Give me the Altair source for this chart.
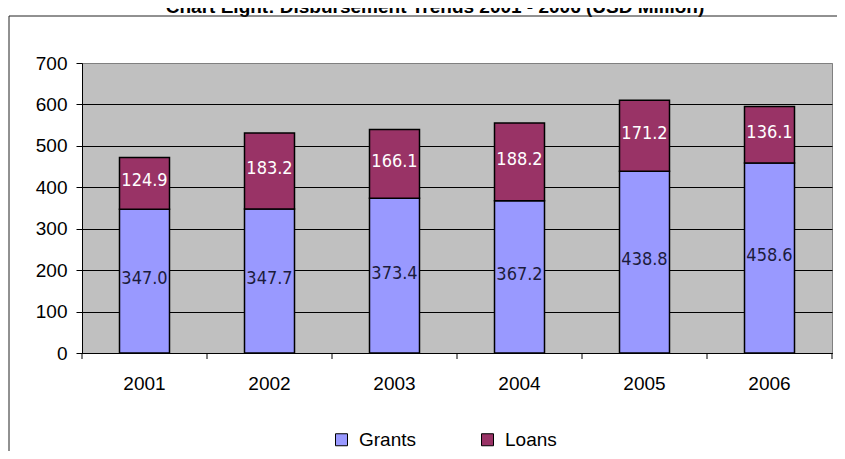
import altair as alt
import pandas as pd

years = ["2001", "2002", "2003", "2004", "2005", "2006"]
grants = [347.0, 347.7, 373.4, 367.2, 438.8, 458.6]
loans = [124.9, 183.2, 166.1, 188.2, 171.2, 136.1]
series_names = ["Grants", "Loans"]
series_colors = ["#9999FF", "#993366"]
label_colors = ["#1C1C3C", "#FFFFFF"]
y_ticks = [0, 100, 200, 300, 400, 500, 600, 700]
title_text = "Chart Eight: Disbursement Trends 2001 - 2006 (USD Million)"

AXIS_FONT = "Liberation Sans, Arial, Helvetica, sans-serif"
NARROW_FONT = "Noto Sans Condensed, Liberation Sans Narrow, Arial Narrow, DejaVu Sans Condensed, sans-serif"

rows = []
for i, yr in enumerate(years):
    base = 0.0
    for name, vals, lc in zip(series_names, [grants, loans], label_colors):
        v = vals[i]
        rows.append(dict(year=yr, series=name, value=v, lo=base, hi=base + v,
                         mid=base + v / 2, lcolor=lc))
        base += v
df = pd.DataFrame(rows)
year_df = pd.DataFrame({"year": years})
last_df = pd.DataFrame({"year": years[-1:]})
one = pd.DataFrame({"t": [title_text]})

xscale = alt.Scale(domain=years, paddingInner=0, paddingOuter=0)
yscale = alt.Scale(domain=[0, 700], nice=False)

x_enc = alt.X("year:N", scale=xscale, sort=years,
              axis=alt.Axis(title=None, labelAngle=0, ticks=False, tickSize=0,
                            domainColor="black", domainWidth=1,
                            labelFont=AXIS_FONT, labelFontSize=19, labelColor="black",
                            labelPadding=21))

bars = alt.Chart(df).mark_bar(size=50, stroke="black", strokeWidth=1.5).encode(
    x=x_enc,
    y=alt.Y("lo:Q", scale=yscale,
            axis=alt.Axis(title=None, values=y_ticks, tickSize=6, tickColor="black",
                          domainColor="black", grid=True,
                          gridColor={"condition": {"test": "datum.value === 700", "value": "#808080"},
                                     "value": "black"},
                          gridWidth=1, labelFont=AXIS_FONT, labelFontSize=19,
                          labelColor="black", labelPadding=9)),
    y2="hi:Q",
    color=alt.Color("series:N",
                    scale=alt.Scale(domain=series_names, range=series_colors),
                    legend=alt.Legend(orient="none", legendX=250, legendY=367,
                                      direction="horizontal", title=None,
                                      symbolType="square", symbolSize=144,
                                      symbolStrokeColor="black", symbolStrokeWidth=1,
                                      labelFont=AXIS_FONT, labelFontSize=19,
                                      labelColor="black", labelOffset=8,
                                      columnPadding=61, padding=0)),
)

labels = alt.Chart(df).mark_text(font=NARROW_FONT, fontSize=18, baseline="middle",
                                 align="center", dy=-2).encode(
    x=alt.X("year:N", scale=xscale, sort=years),
    y=alt.Y("mid:Q", scale=yscale),
    text=alt.Text("value:Q", format=".1f"),
    color=alt.Color("lcolor:N", scale=None),
)

xticks = alt.Chart(year_df).mark_rule(color="black", strokeWidth=1).encode(
    x=alt.X("year:N", scale=xscale, sort=years, bandPosition=0),
    y=alt.value(290), y2=alt.value(296),
)
xtick_end = alt.Chart(last_df).mark_rule(color="black", strokeWidth=1).encode(
    x=alt.X("year:N", scale=xscale, sort=years, bandPosition=1),
    y=alt.value(290), y2=alt.value(296),
)

title = alt.Chart(one).mark_text(font=AXIS_FONT, fontSize=19, fontWeight="bold",
                                 align="center", baseline="alphabetic", color="black").encode(
    x=alt.value(353), y=alt.value(-50), text="t:N")

frame_top = alt.Chart(one).mark_rule(color="#222222", strokeWidth=1).encode(
    x=alt.value(-73), x2=alt.value(760), y=alt.value(-47))
frame_left = alt.Chart(one).mark_rule(color="#222222", strokeWidth=1).encode(
    x=alt.value(-73), y=alt.value(-47), y2=alt.value(400))

chart = alt.layer(bars, labels, xticks, xtick_end, title, frame_top, frame_left).properties(
    width=750, height=290, autosize="none",
    padding={"left": 74, "top": 55, "right": 5, "bottom": 98},
).configure_view(fill="#C0C0C0", stroke="#808080", strokeWidth=1)

chart.save("out.html", embed_options={"renderer": "svg", "actions": False})
